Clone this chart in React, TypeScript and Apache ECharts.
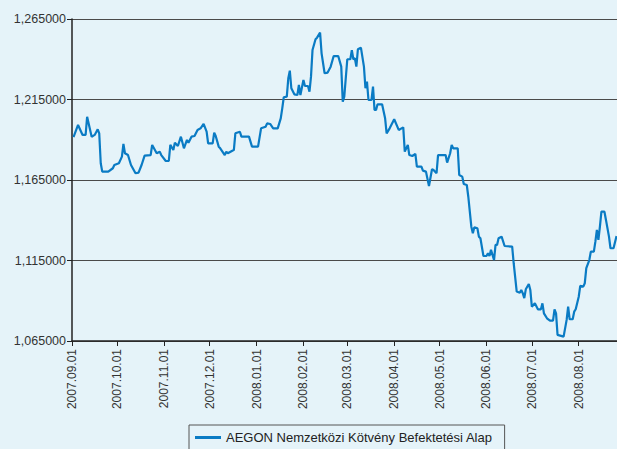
import React, { useEffect, useRef } from "react";
import * as echarts from "echarts";

const seriesName = "AEGON Nemzetközi Kötvény Befektetési Alap";

const startDate = "2007-09-01";
const endDate = "2008-08-26";

const monthLabels = [
  "2007.09.01", "2007.10.01", "2007.11.01", "2007.12.01", "2008.01.01", "2008.02.01",
  "2008.03.01", "2008.04.01", "2008.05.01", "2008.06.01", "2008.07.01", "2008.08.01",
];

const yTicks = [1.065, 1.115, 1.165, 1.215, 1.265];

const dates = [
  "2007-09-02", "2007-09-05", "2007-09-08", "2007-09-10", "2007-09-11", "2007-09-14", "2007-09-16", "2007-09-18", "2007-09-19", "2007-09-20",
  "2007-09-21", "2007-09-25", "2007-09-28", "2007-09-29", "2007-10-02", "2007-10-04", "2007-10-05", "2007-10-06", "2007-10-08", "2007-10-10",
  "2007-10-13", "2007-10-15", "2007-10-17", "2007-10-19", "2007-10-23", "2007-10-24", "2007-10-27", "2007-10-29", "2007-10-30", "2007-11-02",
  "2007-11-04", "2007-11-05", "2007-11-07", "2007-11-08", "2007-11-10", "2007-11-12", "2007-11-14", "2007-11-16", "2007-11-17", "2007-11-19",
  "2007-11-21", "2007-11-23", "2007-11-25", "2007-11-27", "2007-11-29", "2007-11-30", "2007-12-03", "2007-12-04", "2007-12-05", "2007-12-07",
  "2007-12-08", "2007-12-11", "2007-12-12", "2007-12-13", "2007-12-16", "2007-12-17", "2007-12-18", "2007-12-21", "2007-12-22", "2007-12-27",
  "2007-12-29", "2008-01-02", "2008-01-04", "2008-01-07", "2008-01-08", "2008-01-10", "2008-01-12", "2008-01-15", "2008-01-17", "2008-01-18",
  "2008-01-19", "2008-01-21", "2008-01-22", "2008-01-23", "2008-01-24", "2008-01-26", "2008-01-28", "2008-01-29", "2008-01-30", "2008-02-01",
  "2008-02-02", "2008-02-04", "2008-02-05", "2008-02-06", "2008-02-07", "2008-02-09", "2008-02-10", "2008-02-12", "2008-02-13", "2008-02-15",
  "2008-02-17", "2008-02-19", "2008-02-21", "2008-02-24", "2008-02-26", "2008-02-27", "2008-02-28", "2008-03-01", "2008-03-03", "2008-03-04",
  "2008-03-05", "2008-03-06", "2008-03-07", "2008-03-08", "2008-03-10", "2008-03-12", "2008-03-13", "2008-03-14", "2008-03-15", "2008-03-17",
  "2008-03-18", "2008-03-19", "2008-03-20", "2008-03-21", "2008-03-24", "2008-03-26", "2008-03-27", "2008-03-29", "2008-04-01", "2008-04-04",
  "2008-04-07", "2008-04-08", "2008-04-10", "2008-04-11", "2008-04-13", "2008-04-15", "2008-04-16", "2008-04-19", "2008-04-20", "2008-04-22",
  "2008-04-24", "2008-04-26", "2008-04-27", "2008-04-29", "2008-04-30", "2008-05-05", "2008-05-06", "2008-05-08", "2008-05-09", "2008-05-10",
  "2008-05-13", "2008-05-14", "2008-05-16", "2008-05-17", "2008-05-19", "2008-05-20", "2008-05-22", "2008-05-23", "2008-05-24", "2008-05-26",
  "2008-05-27", "2008-05-28", "2008-05-30", "2008-06-01", "2008-06-02", "2008-06-03", "2008-06-04", "2008-06-06", "2008-06-07", "2008-06-08",
  "2008-06-09", "2008-06-11", "2008-06-13", "2008-06-18", "2008-06-19", "2008-06-21", "2008-06-23", "2008-06-24", "2008-06-25", "2008-06-26",
  "2008-06-27", "2008-06-29", "2008-06-30", "2008-07-01", "2008-07-03", "2008-07-05", "2008-07-07", "2008-07-08", "2008-07-09", "2008-07-11",
  "2008-07-13", "2008-07-15", "2008-07-16", "2008-07-17", "2008-07-18", "2008-07-22", "2008-07-24", "2008-07-25", "2008-07-26", "2008-07-28",
  "2008-07-29", "2008-07-30", "2008-08-01", "2008-08-02", "2008-08-04", "2008-08-05", "2008-08-06", "2008-08-08", "2008-08-09", "2008-08-11",
  "2008-08-12", "2008-08-13", "2008-08-14", "2008-08-15", "2008-08-16", "2008-08-18", "2008-08-19", "2008-08-21", "2008-08-22", "2008-08-24",
  "2008-08-26",
];

const values = [
  1.1917, 1.1992, 1.1930, 1.1930, 1.2043, 1.1919, 1.1930, 1.1965, 1.1940, 1.1754,
  1.1702, 1.1702, 1.1723, 1.1743, 1.1754, 1.1795, 1.1874, 1.1816, 1.1805, 1.1743,
  1.1692, 1.1696, 1.1743, 1.1801, 1.1805, 1.1868, 1.1816, 1.1826, 1.1805, 1.1768,
  1.1768, 1.1868, 1.1836, 1.1882, 1.1861, 1.1919, 1.1847, 1.1899, 1.1882, 1.1919,
  1.1923, 1.1961, 1.1971, 1.1998, 1.1950, 1.1878, 1.1878, 1.1944, 1.1923, 1.1857,
  1.1847, 1.1805, 1.1826, 1.1816, 1.1832, 1.1836, 1.1940, 1.1950, 1.1919, 1.1919,
  1.1857, 1.1857, 1.1971, 1.1981, 1.2002, 1.1998, 1.1971, 1.1971, 1.2033, 1.2095,
  1.2164, 1.2168, 1.2282, 1.2329, 1.2220, 1.2182, 1.2178, 1.2240, 1.2178, 1.2271,
  1.2234, 1.2234, 1.2199, 1.2292, 1.2457, 1.2524, 1.2534, 1.2565, 1.2437, 1.2313,
  1.2317, 1.2354, 1.2420, 1.2420, 1.2354, 1.2136, 1.2167, 1.2400, 1.2400, 1.2457,
  1.2400, 1.2406, 1.2354, 1.2462, 1.2472, 1.2354, 1.2220, 1.2261, 1.2147, 1.2147,
  1.2230, 1.2085, 1.2085, 1.2120, 1.2120, 1.2033, 1.1940, 1.1971, 1.2027, 1.1961,
  1.1977, 1.1826, 1.1868, 1.1805, 1.1799, 1.1812, 1.1733, 1.1733, 1.1708, 1.1702,
  1.1613, 1.1717, 1.1712, 1.1692, 1.1805, 1.1805, 1.1758, 1.1816, 1.1868, 1.1847,
  1.1847, 1.1681, 1.1671, 1.1625, 1.1619, 1.1546, 1.1360, 1.1319, 1.1356, 1.1350,
  1.1298, 1.1288, 1.1178, 1.1178, 1.1195, 1.1178, 1.1216, 1.1153, 1.1247, 1.1247,
  1.1288, 1.1298, 1.1240, 1.1236, 1.1133, 1.0957, 1.0950, 1.0967, 1.0947, 1.0916,
  1.0971, 1.1004, 1.0967, 1.0863, 1.0884, 1.0847, 1.0847, 1.0884, 1.0822, 1.0791,
  1.0776, 1.0776, 1.0847, 1.0822, 1.0688, 1.0677, 1.0781, 1.0863, 1.0785, 1.0785,
  1.0832, 1.0847, 1.0925, 1.0992, 1.0988, 1.1009, 1.1102, 1.1153, 1.1205, 1.1205,
  1.1267, 1.1340, 1.1278, 1.1360, 1.1453, 1.1453, 1.1402, 1.1298, 1.1226, 1.1226,
  1.1302,
];

const BG = "#e5f3f9";
const FONT = "'Liberation Sans', Arial, sans-serif";

function dayIndex(s: string): number {
  const p = s.split(/[-.]/).map(Number);
  const b = startDate.split("-").map(Number);
  return Math.round((Date.UTC(p[0], p[1] - 1, p[2]) - Date.UTC(b[0], b[1] - 1, b[2])) / 86400000);
}

export default function App() {
  const ref = useRef<HTMLDivElement>(null);

  useEffect(() => {
    document.body.style.margin = "0";
    document.body.style.background = BG;
    if (!ref.current) return;
    const chart = echarts.init(ref.current, undefined, { renderer: "svg" });

    const monthOffsets = monthLabels.map(dayIndex);
    const labelByOffset: Record<number, string> = {};
    monthOffsets.forEach((o, i) => (labelByOffset[o] = monthLabels[i]));
    const data = dates.map((d, i) => [dayIndex(d), values[i]]);

    chart.setOption({
      animation: false,
      backgroundColor: BG,
      textStyle: { fontFamily: FONT },
      grid: { left: 72, right: 0, top: 19, bottom: 108, containLabel: false, outerBoundsMode: "none" },
      legend: {
        left: 189,
        top: 425,
        padding: [6, 12, 14, 6],
        borderColor: "#555",
        borderWidth: 1,
        borderRadius: 0,
        backgroundColor: BG,
        itemWidth: 26,
        itemHeight: 3,
        icon: "rect",
        textStyle: { color: "#222", fontSize: 13, fontFamily: FONT },
        data: [seriesName],
      },
      xAxis: {
        type: "value",
        min: 0,
        max: dayIndex(endDate) + 0.3,
        axisLine: { show: true, onZero: false, lineStyle: { color: "#222", width: 1.5 } },
        axisTick: { show: true, customValues: monthOffsets, length: 5, lineStyle: { color: "#222" } },
        axisLabel: {
          customValues: monthOffsets,
          rotate: 90,
          margin: 8,
          color: "#333",
          fontSize: 12,
          fontFamily: FONT,
          formatter: (v: number) => labelByOffset[Math.round(v)] ?? "",
        },
        splitLine: { show: false },
      },
      yAxis: {
        type: "value",
        min: yTicks[0],
        max: yTicks[yTicks.length - 1],
        interval: 0.05,
        axisLine: { show: true, lineStyle: { color: "#222", width: 1.5 } },
        axisTick: { show: true, length: 5, lineStyle: { color: "#222" } },
        axisLabel: {
          margin: 6,
          color: "#333",
          fontSize: 12.5,
          fontFamily: FONT,
          formatter: (v: number) => v.toFixed(6).replace(".", ","),
        },
        splitLine: { show: true, lineStyle: { color: "#4a4a4a", width: 1.2 } },
      },
      series: [
        {
          name: seriesName,
          type: "line",
          data,
          showSymbol: false,
          symbol: "none",
          lineStyle: { color: "#0a7bc4", width: 2.2 },
          itemStyle: { color: "#0a7bc4" },
        },
      ],
    });

    return () => chart.dispose();
  }, []);

  return (
    <div
      ref={ref}
      style={{ position: "absolute", left: 0, top: 0, width: 617, height: 449, background: BG }}
    />
  );
}
